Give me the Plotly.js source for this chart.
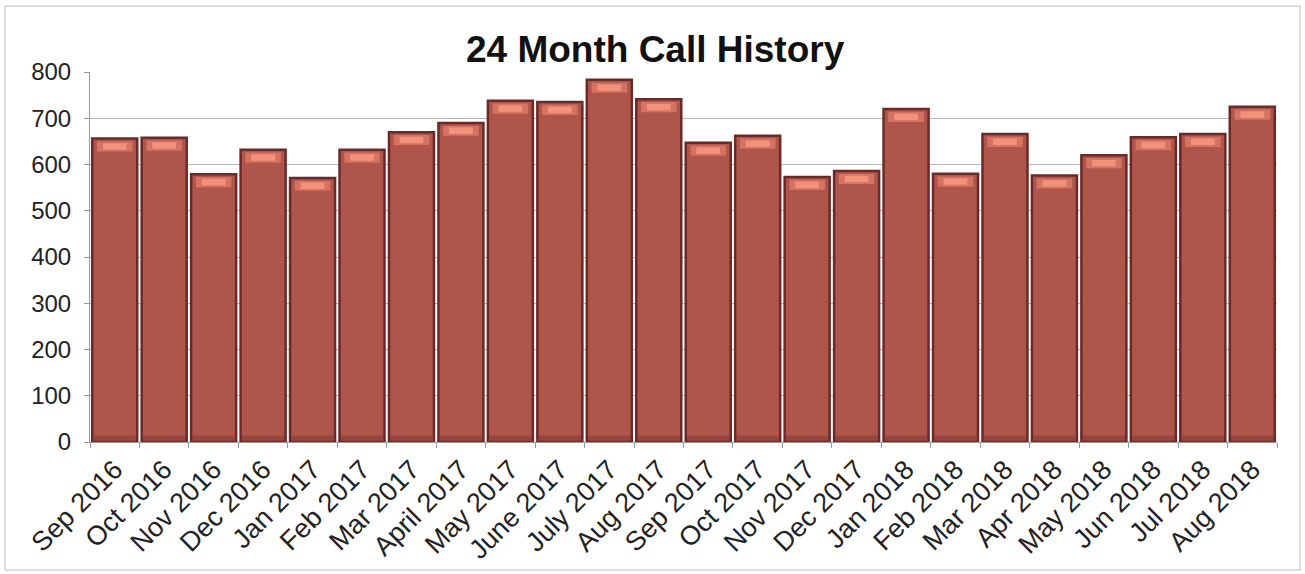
<!DOCTYPE html>
<html>
<head>
<meta charset="utf-8">
<script src="https://cdn.plot.ly/plotly-3.0.1.min.js"></script>
<style>
html,body{margin:0;padding:0;background:#fff;}
#chart{width:1305px;height:574px;}
</style>
</head>
<body>
<div id="chart"></div>
<script>
const months = ["Sep 2016","Oct 2016","Nov 2016","Dec 2016","Jan 2017","Feb 2017","Mar 2017","April 2017","May 2017","June 2017","July 2017","Aug 2017","Sep 2017","Oct 2017","Nov 2017","Dec 2017","Jan 2018","Feb 2018","Mar 2018","Apr 2018","May 2018","Jun 2018","Jul 2018","Aug 2018"];
const calls = [656,658,579,632,571,632,670,690,738,735,783,741,647,662,573,586,720,580,666,576,620,659,666,725];
const yTicks = [0,100,200,300,400,500,600,700,800];

const FONT = 'Liberation Sans, Arial, sans-serif';

const bars = {
  type: 'bar',
  x: months,
  y: calls,
  marker: {color: '#ae564b', line: {color: '#6b2a27', width: 2.5}},
  hoverinfo: 'x+y'
};
// bevel highlight (outer, softer)
const highlightOuter = {
  type: 'bar',
  x: months,
  y: calls.map(() => 22),
  base: calls.map(v => v - 28),
  width: 0.72,
  marker: {color: 'rgba(226,124,104,0.75)', line: {width: 0}},
  hoverinfo: 'skip'
};
// bevel highlight (inner, brighter)
const highlightInner = {
  type: 'bar',
  x: months,
  y: calls.map(() => 14),
  base: calls.map(v => v - 24),
  width: 0.48,
  marker: {color: 'rgba(245,150,125,0.9)', line: {width: 0}},
  hoverinfo: 'skip'
};
// darker base strip
const baseStrip = {
  type: 'bar',
  x: months,
  y: calls.map(() => 14),
  base: calls.map(() => 0),
  width: 0.86,
  marker: {color: 'rgba(125,50,45,0.45)', line: {width: 0}},
  hoverinfo: 'skip'
};

const layout = {
  width: 1305, height: 574,
  paper_bgcolor: '#ffffff', plot_bgcolor: '#ffffff',
  margin: {l: 90, r: 28, t: 72, b: 132},
  title: {text: '<b>24 Month Call History</b>', x: 0.502, xanchor: 'center', y: 0.915, yanchor: 'middle',
          font: {family: FONT, size: 37, color: '#111'}},
  bargap: 0.09,
  barmode: 'overlay',
  showlegend: false,
  xaxis: {
    tickangle: -45,
    tickfont: {family: FONT, size: 27, color: '#222'},
    showline: true, linecolor: '#999', linewidth: 1,
    ticks: 'outside', ticklen: 5, tickcolor: '#999',
    tickson: 'boundaries',
    showgrid: false
  },
  yaxis: {
    range: [0, 800],
    tickvals: yTicks,
    ticktext: yTicks.map(String),
    tickfont: {family: FONT, size: 24, color: '#222'},
    ticklabelstandoff: 8,
    showline: true, linecolor: '#999', linewidth: 1,
    ticks: 'outside', ticklen: 5, tickcolor: '#999',
    showgrid: true, gridcolor: '#b8b8b8', gridwidth: 1,
    zeroline: false
  },
  shapes: [{type: 'rect', xref: 'paper', yref: 'paper', x0: -0.0716, x1: 1.0194, y0: -0.346, y1: 1.178,
            line: {color: '#bbb', width: 1}, fillcolor: 'rgba(0,0,0,0)'}]
};

Plotly.newPlot('chart', [bars, baseStrip, highlightOuter, highlightInner], layout, {displayModeBar: false, staticPlot: true});
</script>
</body>
</html>
